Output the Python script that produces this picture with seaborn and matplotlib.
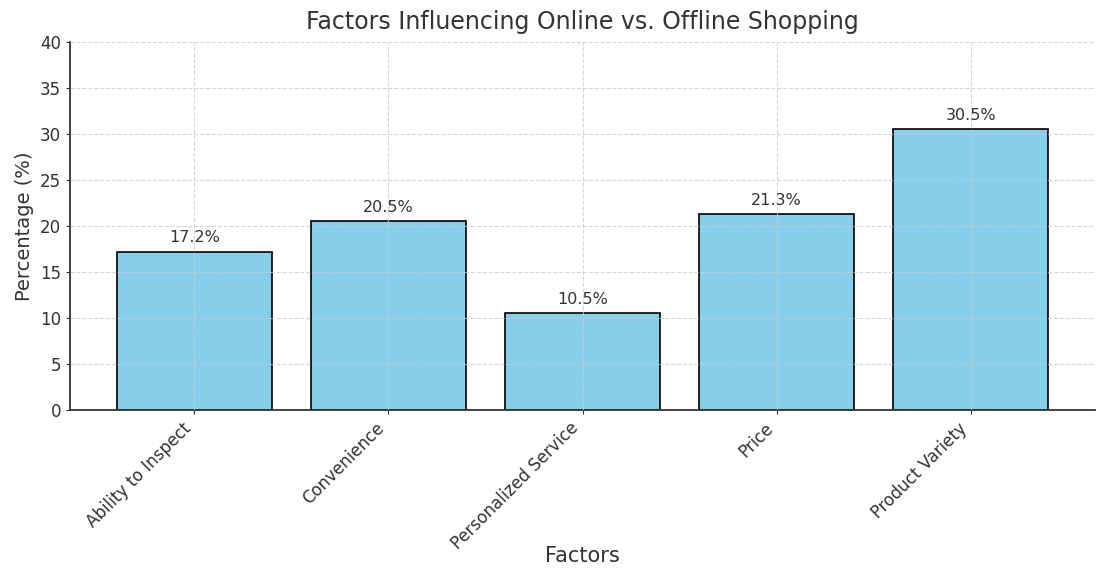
import matplotlib
matplotlib.use("Agg")
import matplotlib.pyplot as plt
import seaborn as sns
import pandas as pd

factors = ["Ability to Inspect", "Convenience", "Personalized Service", "Price", "Product Variety"]
percentages = [17.2, 20.5, 10.5, 21.3, 30.5]

TEXT = "#333333"


def make_chart():
    sns.set_style("white")
    plt.rcParams["font.family"] = ["DejaVu Sans"]

    df = pd.DataFrame({"Factors": factors, "Percentage": percentages})

    fig = plt.figure(figsize=(10.96, 5.72), dpi=100)
    ax = fig.add_axes([0.064, 0.283, 0.935, 0.644])

    sns.barplot(data=df, x="Factors", y="Percentage", color="skyblue",
                edgecolor="black", linewidth=1.2, saturation=1, width=0.8, ax=ax)

    for i, v in enumerate(percentages):
        ax.text(i, v + 0.7, f"{v}%", ha="center", va="bottom", fontsize=11.5, color=TEXT)

    ax.set_xlim(-0.64, 4.64)
    ax.set_ylim(0, 40)
    ax.set_yticks(range(0, 41, 5))

    ax.grid(True, linestyle="--", color="#cccccc", linewidth=0.8, alpha=0.8)
    ax.set_axisbelow(False)

    for side in ["top", "right"]:
        ax.spines[side].set_visible(False)
    for side in ["left", "bottom"]:
        ax.spines[side].set_color(TEXT)
        ax.spines[side].set_linewidth(1.3)

    ax.tick_params(axis="both", colors=TEXT, labelsize=12, length=3, left=True, bottom=True)
    plt.setp(ax.get_xticklabels(), rotation=45, ha="right")

    ax.set_title("Factors Influencing Online vs. Offline Shopping", fontsize=17, color=TEXT, pad=9)
    ax.set_xlabel("Factors", fontsize=15, color=TEXT)
    ax.xaxis.set_label_coords(0.5, -0.37)
    ax.set_ylabel("Percentage (%)", fontsize=14, color=TEXT)

    fig.savefig("out.png", dpi=100)
    plt.close(fig)


if __name__ == "__main__":
    make_chart()
